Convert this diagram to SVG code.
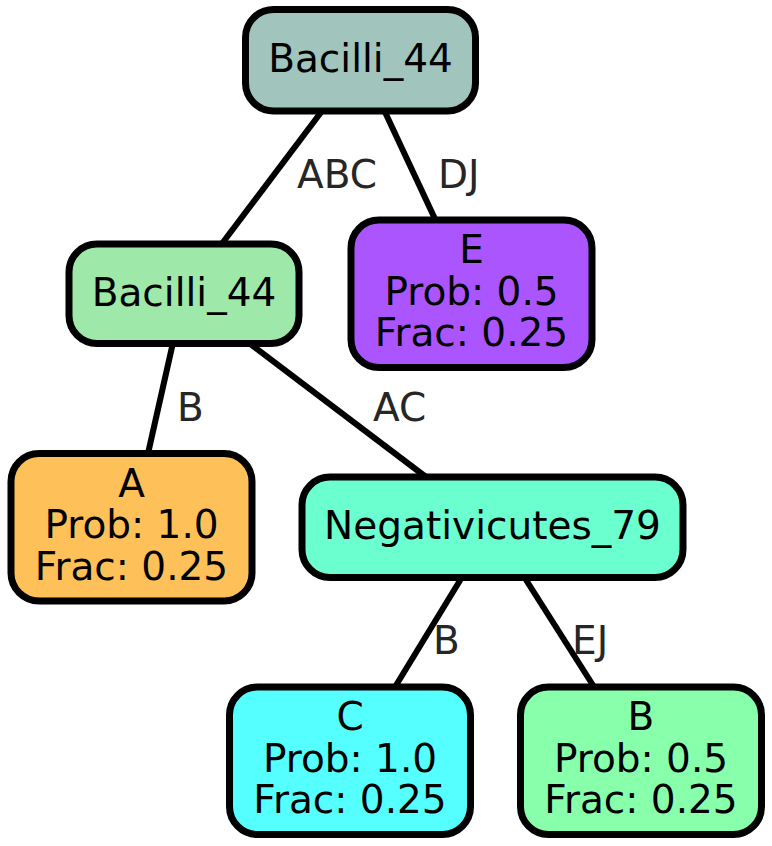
<svg xmlns="http://www.w3.org/2000/svg" width="772" height="846" viewBox="0 0 772 846">
<style>
.node rect{stroke:#000;stroke-width:7}
.node text{font-family:"DejaVu Sans",sans-serif;font-size:39px;fill:#000;text-anchor:middle}
.edges line{stroke:#000;stroke-width:6}
.edges text{font-family:"DejaVu Sans",sans-serif;font-size:39px;fill:#262626}
</style>
<rect width="772" height="846" fill="#fff"/>
<g class="edges" id="edges">
<line x1="322" y1="111" x2="221.7" y2="244"/>
<line x1="384.5" y1="111" x2="435.5" y2="220"/>
<line x1="172.8" y1="343.5" x2="148" y2="453.5"/>
<line x1="249.7" y1="343.5" x2="426" y2="477"/>
<line x1="461.8" y1="577.5" x2="395" y2="687"/>
<line x1="524.5" y1="577.5" x2="594.1" y2="687"/>
<text x="297" y="188">ABC</text>
<text x="438" y="188">DJ</text>
<text x="177" y="421">B</text>
<text x="373" y="421">AC</text>
<text x="433" y="654">B</text>
<text x="572" y="654">EJ</text>
</g>
<g class="node" id="n_top">
<rect x="245.5" y="9.5" width="230" height="101.5" rx="28" fill="#a1c4bd"/>
<text x="360.5" y="72">Bacilli_44</text>
</g>
<g class="node" id="n_mid">
<rect x="69" y="244" width="230" height="99.5" rx="28" fill="#9ee9a9"/>
<text x="184" y="305.5">Bacilli_44</text>
</g>
<g class="node" id="n_E">
<rect x="351" y="220" width="241" height="147.5" rx="28" fill="#aa55ff"/>
<text x="471.5" y="263">E</text>
<text x="471.5" y="304.5">Prob: 0.5</text>
<text x="471.5" y="346">Frac: 0.25</text>
</g>
<g class="node" id="n_A">
<rect x="11" y="453.5" width="241" height="147.5" rx="28" fill="#fec058"/>
<text x="131.5" y="496.5">A</text>
<text x="131.5" y="538">Prob: 1.0</text>
<text x="131.5" y="579.5">Frac: 0.25</text>
</g>
<g class="node" id="n_neg">
<rect x="302" y="477" width="381" height="100.5" rx="28" fill="#6bffd0"/>
<text x="492.5" y="539">Negativicutes_79</text>
</g>
<g class="node" id="n_C">
<rect x="229.5" y="687" width="241" height="147.5" rx="28" fill="#55ffff"/>
<text x="350" y="730">C</text>
<text x="350" y="771.5">Prob: 1.0</text>
<text x="350" y="813">Frac: 0.25</text>
</g>
<g class="node" id="n_B">
<rect x="520.5" y="687" width="241" height="147.5" rx="28" fill="#88ffaa"/>
<text x="641" y="730">B</text>
<text x="641" y="771.5">Prob: 0.5</text>
<text x="641" y="813">Frac: 0.25</text>
</g>
</svg>
